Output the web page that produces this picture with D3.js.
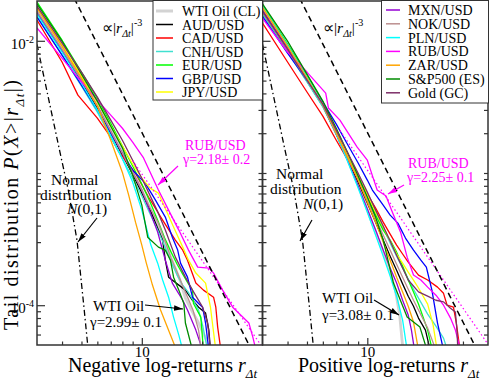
<!DOCTYPE html>
<html>
<head>
<meta charset="utf-8">
<script src="https://cdn.jsdelivr.net/npm/d3@7"></script>
<style>
  body { margin: 0; background: #fff; }
  text { font-family: "Liberation Serif", "Times New Roman", serif; }
</style>
</head>
<body>
<div id="chart"></div>
<script>
// series, same order in both panels
var seriesNames = ["WTI Oil (CL)", "AUD/USD", "CAD/USD", "CNH/USD", "EUR/USD", "GBP/USD", "JPY/USD",
                   "MXN/USD", "NOK/USD", "PLN/USD", "RUB/USD", "ZAR/USD", "S&P500 (ES)", "Gold (GC)"];
var seriesColors = ["#d3d3d3", "#000000", "#ff0000", "#40e0d0", "#00ff00", "#0000ff", "#ffff00",
                    "#9400d3", "#bc8f8f", "#00ffff", "#ff00ff", "#ffa500", "#008b00", "#7d2e68"];

// tail distribution P(X>|r|), points [r, P], negative log-returns
var negTails = [
  [[3,1.71e-2],[4,8.80e-3],[5,5.23e-3],[6,3.27e-3],[7,2.11e-3],[8,1.44e-3],[9,1.01e-3],[10,7.43e-4],[12,4.04e-4],[14,2.27e-4],[15.5,1.55e-4],[16.5,1.13e-4],[17.5,9.49e-5],[19.2,7.33e-5],[21,5.45e-5],[21.6,4.57e-5]],
  [[3,1.62e-2],[4,8.37e-3],[5,4.88e-3],[6,3.10e-3],[7,2.00e-3],[8,1.37e-3],[9,9.80e-4],[10,7.05e-4],[11,5.24e-4],[12.7,3.11e-4],[13.1,2.19e-4],[13.6,1.63e-4],[16.5,1.30e-4],[17.9,1.09e-4],[19.2,9.66e-5],[20.8,8.72e-5],[21.6,6.48e-5],[22,4.57e-5]],
  [[3,1.435e-2],[4,6.91e-3],[4.8,3.88e-3],[6,2.60e-3],[7,1.87e-3],[7.7,1.44e-3],[9.3,9.96e-4],[10.8,6.58e-4],[12.7,4.40e-4],[14.7,3.11e-4],[16,2.61e-4],[16.9,2.19e-4],[18.6,1.47e-4],[20.3,1.30e-4],[22.8,1.15e-4],[23.4,9.66e-5],[23.9,6.83e-5],[24.8,4.57e-5]],
  [[3,1.53e-2],[4,7.80e-3],[5,4.54e-3],[6,2.89e-3],[7,1.87e-3],[8,1.28e-3],[9,9.15e-4],[10,6.69e-4],[11,4.89e-4],[12,3.70e-4],[13,2.80e-4],[14,2.12e-4],[15,1.69e-4],[16,1.42e-4],[17,1.26e-4],[18,1.09e-4],[19.2,9.19e-5],[20.1,7.07e-5],[20.8,5.45e-5],[21.3,4.57e-5]],
  [[3,1.96e-2],[4,1.01e-2],[5,5.80e-3],[6,3.68e-3],[7,2.38e-3],[8,1.60e-3],[9,1.13e-3],[10,8.25e-4],[11,6.03e-4],[12,4.40e-4],[13,3.22e-4],[14,2.52e-4],[15,2.04e-4],[16,1.72e-4],[17,1.47e-4],[17.9,1.30e-4],[18.1,1.03e-4],[19.7,8.13e-5],[20.3,4.57e-5]],
  [[3,1.51e-2],[4,7.80e-3],[5,4.62e-3],[6,2.99e-3],[7,2.00e-3],[8,1.41e-3],[9,1.05e-3],[10.4,8.39e-4],[11.7,6.24e-4],[13.1,4.64e-4],[14.2,3.27e-4],[15.1,2.61e-4],[15.6,2.08e-4],[16.9,1.63e-4],[17.9,1.15e-4],[19.2,1.03e-4],[20.1,9.66e-5],[20.8,7.33e-5],[21.6,4.57e-5]],
  [[3,1.80e-2],[4,9.27e-3],[5,5.42e-3],[6,3.44e-3],[7,2.26e-3],[8,1.60e-3],[9,1.17e-3],[10,9.15e-4],[11,7.69e-4],[12.1,7.05e-4],[14.4,3.90e-4],[16,2.75e-4],[17.1,2.19e-4],[18.6,1.75e-4],[20.8,1.47e-4],[22,9.66e-5],[22.5,7.33e-5],[23.4,4.57e-5]],
  [[3,1.65e-2],[4,8.51e-3],[5,5.05e-3],[6,3.21e-3],[7,2.07e-3],[8,1.41e-3],[9,1.01e-3],[10,7.43e-4],[11,5.06e-4],[12,3.57e-4],[13.1,2.19e-4],[14.2,1.47e-4],[16,1.09e-4],[16.9,9.19e-5],[18.6,6.48e-5],[20.1,4.57e-5]],
  [[3,1.68e-2],[4,8.65e-3],[5,5.05e-3],[6,3.21e-3],[7,2.07e-3],[8,1.41e-3],[9,1.01e-3],[10,7.43e-4],[11,5.43e-4],[12.1,4.18e-4],[13,3.11e-4],[14,2.27e-4],[15,1.78e-4],[16,1.40e-4],[17,1.13e-4],[18,9.19e-5],[19.2,6.48e-5],[19.8,4.57e-5]],
  [[3,1.59e-2],[4,8.22e-3],[5,4.79e-3],[6,2.99e-3],[7,1.91e-3],[8,1.28e-3],[9,8.54e-4],[10,5.24e-4],[11.1,2.85e-4],[12,2.08e-4],[12.7,1.55e-4],[13.6,1.15e-4],[14.4,8.13e-5],[15.3,5.94e-5],[16,4.57e-5]],
  [[3,1.25e-2],[4,7.40e-3],[5,4.88e-3],[6,3.56e-3],[7,2.74e-3],[8,2.18e-3],[9,1.71e-3],[10.2,1.30e-3],[12.1,7.43e-4],[13.6,5.24e-4],[15.3,3.70e-4],[17.1,2.61e-4],[19,1.94e-4],[21.6,1.91e-4],[22.8,1.75e-4],[25.3,1.30e-4],[28.4,9.66e-5],[34.2,7.33e-5],[35.8,5.74e-5],[37.1,4.57e-5]],
  [[3,1.77e-2],[4,9.11e-3],[5,5.23e-3],[6,3.21e-3],[7,1.77e-3],[8,1.01e-3],[8.6,6.81e-4],[9.3,4.25e-4],[10,2.85e-4],[10.5,2.12e-4],[11.3,1.42e-4],[12.4,9.19e-5],[13.9,5.94e-5],[14.9,4.57e-5]],
  [[3,1.90e-2],[4,9.95e-3],[5,5.60e-3],[6,3.50e-3],[7,2.26e-3],[8,1.55e-3],[9,9.64e-4],[10,5.72e-4],[10.7,3.27e-4],[12.1,2.75e-4],[13.1,2.61e-4],[13.9,2.19e-4],[14.4,1.63e-4],[15.3,1.30e-4],[16.2,1.03e-4],[16.5,7.33e-5],[17.9,4.57e-5]],
  [[3,1.83e-2],[4,9.60e-3],[5,5.80e-3],[6,3.75e-3],[7,2.51e-3],[8,1.77e-3],[9,1.25e-3],[10.1,8.84e-4],[11.9,5.24e-4],[13.1,3.70e-4],[14.7,2.31e-4],[16.5,1.63e-4],[17.9,1.30e-4],[20.1,9.66e-5],[21.3,7.33e-5],[22,4.57e-5]]
];

// positive log-returns
var posTails = [
  [[3,1.77e-2],[4,9.11e-3],[5,5.23e-3],[6,3.32e-3],[7,2.00e-3],[8,1.25e-3],[9,8.10e-4],[10,5.24e-4],[11,3.57e-4],[12,2.52e-4],[13,1.78e-4],[13.8,1.30e-4],[14.5,8.42e-5],[14.9,5.45e-5],[15.1,4.57e-5]],
  [[3,1.62e-2],[4,8.37e-3],[5,4.96e-3],[6,3.21e-3],[7,1.97e-3],[8,1.25e-3],[9,8.54e-4],[10,5.92e-4],[11,4.25e-4],[12,3.11e-4],[13,2.35e-4],[14,1.84e-4],[15,1.45e-4],[16,1.17e-4],[17,9.83e-5],[18,7.99e-5],[19.5,6.48e-5],[20.6,4.57e-5]],
  [[3,1.36e-2],[4,6.91e-3],[5,4.10e-3],[6,2.69e-3],[7,1.77e-3],[8,1.25e-3],[9,9.15e-4],[10,6.93e-4],[11,5.43e-4],[12,4.25e-4],[13,3.45e-4],[14,2.85e-4],[15,2.44e-4],[16,2.12e-4],[18,1.69e-4],[20,1.55e-4],[22.4,1.37e-4],[24,1.23e-4],[25,1.00e-4],[26.9,9.66e-5],[27.8,7.33e-5],[29,4.57e-5]],
  [[3,1.59e-2],[4,8.22e-3],[5,4.88e-3],[6,3.16e-3],[7,1.97e-3],[8,1.30e-3],[9,9.15e-4],[10,6.69e-4],[11,4.97e-4],[12,3.83e-4],[13,2.95e-4],[14,2.35e-4],[15,1.91e-4],[16,1.58e-4],[17,1.32e-4],[18,1.13e-4],[20,8.57e-5],[22,6.95e-5],[24,5.64e-5],[25.1,4.57e-5]],
  [[3,1.86e-2],[4,9.44e-3],[5,5.51e-3],[6,3.44e-3],[7,2.11e-3],[8,1.37e-3],[9,9.48e-4],[10,6.69e-4],[11,4.80e-4],[12,3.70e-4],[13,3.11e-4],[14,2.52e-4],[15,1.98e-4],[16,1.55e-4],[17,1.26e-4],[18,1.02e-4],[20,6.48e-5],[21.1,4.57e-5]],
  [[3,1.53e-2],[4,8.08e-3],[5,5.05e-3],[6,3.44e-3],[7,2.34e-3],[8,1.63e-3],[9,1.19e-3],[10,8.84e-4],[10.6,7.43e-4],[12,5.72e-4],[13,4.80e-4],[14.2,4.18e-4],[15.5,3.22e-4],[17,2.61e-4],[18.5,2.19e-4],[19.7,1.94e-4],[21,1.30e-4],[22.4,7.33e-5],[24,4.57e-5]],
  [[3,1.74e-2],[4,8.95e-3],[5,5.23e-3],[6,3.32e-3],[7,2.07e-3],[8,1.37e-3],[9,9.48e-4],[10,6.81e-4],[11,5.06e-4],[12,3.90e-4],[13,3.06e-4],[14,2.44e-4],[15,2.08e-4],[16,1.78e-4],[17,1.55e-4],[18,1.35e-4],[20,1.02e-4],[21.3,7.07e-5],[22.3,4.57e-5]],
  [[3,1.71e-2],[4,8.80e-3],[5,5.14e-3],[6,3.27e-3],[7,1.97e-3],[8,1.23e-3],[9,7.96e-4],[10,5.34e-4],[11,3.70e-4],[12,2.61e-4],[13,1.91e-4],[14,1.47e-4],[15,1.09e-4],[16,8.42e-5],[16.6,6.48e-5],[17.2,4.57e-5]],
  [[3,1.65e-2],[4,8.51e-3],[5,5.05e-3],[6,3.27e-3],[7,2.00e-3],[8,1.30e-3],[9,8.84e-4],[10,6.24e-4],[11,4.55e-4],[12,3.39e-4],[13,2.61e-4],[14,2.04e-4],[15,1.63e-4],[16,1.32e-4],[17,1.09e-4],[18,9.19e-5],[20,6.71e-5],[22,4.57e-5]],
  [[3,1.83e-2],[4,9.27e-3],[5,5.32e-3],[6,3.32e-3],[7,1.97e-3],[8,1.21e-3],[9,7.69e-4],[10,5.06e-4],[11,3.39e-4],[12,2.35e-4],[13,1.66e-4],[14,1.17e-4],[15,7.72e-5],[15.8,4.57e-5]],
  [[3,1.48e-2],[4,8.22e-3],[5,5.80e-3],[6.2,4.02e-3],[6.4,3.10e-3],[7.3,2.51e-3],[8.9,1.57e-3],[10,1.25e-3],[10.7,9.15e-4],[11.2,7.43e-4],[12.4,6.69e-4],[13.2,5.24e-4],[14.7,3.51e-4],[15.8,2.31e-4],[17,1.69e-4],[18.5,1.55e-4],[20,1.37e-4],[22,1.19e-4],[24,1.00e-4],[26,7.99e-5],[27.5,6.48e-5],[29.2,4.57e-5]],
  [[3,1.80e-2],[4,9.11e-3],[5,5.23e-3],[6,3.27e-3],[7,2.00e-3],[8,1.30e-3],[9,8.84e-4],[10,6.03e-4],[11,4.25e-4],[12,3.00e-4],[13,2.19e-4],[14,1.63e-4],[15,1.26e-4],[16,9.83e-5],[17,7.46e-5],[18,4.57e-5]],
  [[3,1.90e-2],[4,9.95e-3],[5,5.60e-3],[6,3.50e-3],[7,2.18e-3],[8,1.41e-3],[9,9.48e-4],[10,6.58e-4],[11,4.64e-4],[12,3.11e-4],[13.5,1.47e-4],[15.8,8.13e-5],[18.3,6.83e-5],[19.5,4.99e-5],[19.8,4.57e-5]],
  [[3,1.68e-2],[4,8.65e-3],[5,5.05e-3],[6,3.32e-3],[7,2.11e-3],[8,1.41e-3],[9,9.96e-4],[10,7.18e-4],[11,5.24e-4],[12,3.97e-4],[13,3.06e-4],[14,2.39e-4],[15,1.91e-4],[16,1.55e-4],[18,1.26e-4],[20,1.17e-4],[22,1.09e-4],[24,1.06e-4],[26,9.49e-5],[27.5,8.88e-5],[28,6.48e-5],[28.3,4.57e-5]]
];

// normal distribution N(0,1) tail (dash-dot)
var normalR = [3, 3.9, 4.3, 4.75, 5.15, 5.4];
var normalP = [9.4e-3, 1.45e-3, 7.4e-4, 3.1e-4, 9.5e-5, 4.6e-5];
// reference power law |r|^-3 (dashed)
var cubicR = [4.6, 34.5];
var cubicP = [2.1e-2, 4.9e-5];
// RUB/USD power-law fits (dotted)
var rubFitNegR = [9, 40], rubFitNegP = [1.24e-3, 4.8e-5];
var rubFitPosR = [7.3, 41], rubFitPosP = [2.1e-3, 4.8e-5];

var xDomain = [3, 40];
var yDomain = [5e-5, 0.02];
var xMajor = [10];
var yMajor = [1e-2, 1e-4];

var W = 490, H = 381;
var panelTop = 1, panelW = 225.5, ph = 344;
var panelLeft = [37, 262.5];

var svg = d3.select('#chart').append('svg')
    .attr('width', W)
    .attr('height', H);

var defs = svg.append('defs');
function marker(id, color) {
    defs.append('marker')
        .attr('id', id)
        .attr('viewBox', '0 0 10 6')
        .attr('refX', 10).attr('refY', 3)
        .attr('markerWidth', 9).attr('markerHeight', 6)
        .attr('markerUnits', 'userSpaceOnUse')
        .attr('orient', 'auto')
        .append('path')
        .attr('d', 'M0,0L10,3L0,6Z')
        .attr('fill', color);
}
marker('arrBlack', '#000');
marker('arrMag', '#ff00ff');

var x = d3.scaleLog().domain(xDomain).range([0, panelW]);
var y = d3.scaleLog().domain(yDomain).range([ph, 0]);

var line = d3.line()
    .x(function(d) { return x(d[0]); })
    .y(function(d) { return y(d[1]); });

function zip(a, b) { return a.map(function(v, i) { return [v, b[i]]; }); }

function isMajor(list, v) {
    return list.some(function(m) { return Math.abs(v / m - 1) < 1e-6; });
}

var minorX = x.ticks().filter(function(v) { return !isMajor(xMajor, v) && v > xDomain[0] && v < xDomain[1]; });
var minorY = y.ticks().filter(function(v) { return !isMajor(yMajor, v) && v > yDomain[0] * 1.001 && v < yDomain[1] * 0.999; });

function drawPanel(idx, tails, fitR, fitP) {
    var g = svg.append('g')
        .attr('transform', 'translate(' + panelLeft[idx] + ',' + panelTop + ')');

    g.append('clipPath').attr('id', 'clip' + idx)
        .append('rect').attr('width', panelW).attr('height', ph);

    var plot = g.append('g').attr('clip-path', 'url(#clip' + idx + ')');

    tails.forEach(function(pts, i) {
        plot.append('path')
            .attr('d', line(pts))
            .attr('fill', 'none')
            .attr('stroke', seriesColors[i])
            .attr('stroke-width', i === 0 ? 2.8 : 1.3)
            .attr('stroke-linejoin', 'round');
    });

    plot.append('path')
        .attr('d', line(zip(fitR, fitP)))
        .attr('fill', 'none')
        .attr('stroke', '#ff00ff')
        .attr('stroke-width', 1.2)
        .attr('stroke-dasharray', '1.5,2.5');

    plot.append('path')
        .attr('d', line(zip(cubicR, cubicP)))
        .attr('fill', 'none')
        .attr('stroke', '#000')
        .attr('stroke-width', 1.5)
        .attr('stroke-dasharray', '6,4');

    plot.append('path')
        .attr('d', line(zip(normalR, normalP)))
        .attr('fill', 'none')
        .attr('stroke', '#000')
        .attr('stroke-width', 1.3)
        .attr('stroke-dasharray', '6,3,1.5,3');

    // ticks, all pointing inward
    function axisStyle(a) {
        a.select('.domain').remove();
        a.selectAll('.tick line').attr('stroke', '#333').attr('stroke-width', 1.2);
        a.attr('font-family', null).attr('font-size', 15);
    }
    g.append('g').attr('transform', 'translate(0,' + ph + ')')
        .call(d3.axisBottom(x).tickValues(minorX).tickSize(-3.5).tickFormat(''))
        .call(axisStyle);
    g.append('g').attr('transform', 'translate(0,' + ph + ')')
        .call(d3.axisBottom(x).tickValues(xMajor).tickSize(-7).tickPadding(1).tickFormat(d3.format('d')))
        .call(axisStyle)
        .selectAll('text').attr('fill', '#000');

    var yLeft = g.append('g')
        .call(d3.axisLeft(y).tickValues(yMajor).tickSize(-8).tickPadding(3).tickFormat(''))
        .call(axisStyle);
    if (idx === 0) {
        yLeft.selectAll('.tick text')
            .attr('fill', '#000')
            .attr('dy', '0.5em')
            .each(function(d) {
                var t = d3.select(this);
                t.append('tspan').text('10');
                t.append('tspan').attr('dy', -6).attr('font-size', 10).text(Math.round(Math.log10(d)));
            });
    }
    g.append('g')
        .call(d3.axisLeft(y).tickValues(minorY).tickSize(-4).tickFormat(''))
        .call(axisStyle);
    g.append('g').attr('transform', 'translate(' + panelW + ',0)')
        .call(d3.axisRight(y).tickValues(yMajor).tickSize(-8).tickFormat(''))
        .call(axisStyle);
    g.append('g').attr('transform', 'translate(' + panelW + ',0)')
        .call(d3.axisRight(y).tickValues(minorY).tickSize(-4).tickFormat(''))
        .call(axisStyle);

    g.append('rect')
        .attr('width', panelW).attr('height', ph)
        .attr('fill', 'none')
        .attr('stroke', '#333')
        .attr('stroke-width', 1.5);
}

drawPanel(0, negTails, rubFitNegR, rubFitNegP);
drawPanel(1, posTails, rubFitPosR, rubFitPosP);

// text helper: parts with italic / sub / sup
function richText(x0, y0, size, color, parts, anchor) {
    var t = svg.append('text')
        .attr('x', x0).attr('y', y0)
        .attr('font-size', size)
        .attr('fill', color);
    if (anchor) t.attr('text-anchor', anchor);
    var shift = 0;
    parts.forEach(function(p) {
        if (typeof p === 'string') p = { t: p };
        var s = t.append('tspan').text(p.t);
        var target = p.sub ? 0.28 : (p.sup ? -0.42 : 0);
        if (target !== shift) s.attr('dy', (target - shift) * size);
        if (p.sub || p.sup) s.attr('font-size', size * 0.65);
        if (p.it) s.attr('font-style', 'italic');
        shift = target;
    });
    return t;
}

function arrow(x1, y1, x2, y2, color, id) {
    svg.append('line')
        .attr('x1', x1).attr('y1', y1).attr('x2', x2).attr('y2', y2)
        .attr('stroke', color).attr('stroke-width', 1.2)
        .attr('marker-end', 'url(#' + id + ')');
}

// axis titles
richText(68, 372, 20, '#000', ['Negative log-returns ', { t: 'r', it: true }, { t: 'Δt', sub: true, it: true }]);
richText(298, 372, 20, '#000', ['Positive log-returns ', { t: 'r', it: true }, { t: 'Δt', sub: true, it: true }]);
richText(0, 0, 20, '#000', ['Tail distribution ', { t: 'P', it: true }, '(', { t: 'X', it: true }, '>|',
    { t: 'r', it: true }, { t: 'Δt', sub: true, it: true }, '|)'], 'middle')
    .attr('transform', 'translate(18,205) rotate(-90)')
    .attr('textLength', 250)
    .attr('lengthAdjust', 'spacing');

// power-law guide labels
[102, 323].forEach(function(px) {
    richText(px, 33, 15.5, '#000', ['∝|', { t: 'r', it: true }, { t: 'Δt', sub: true, it: true }, '|', { t: '-3', sup: true }]);
});

// RUB/USD annotations
richText(185, 150, 14, '#ff00ff', ['RUB/USD']);
richText(183, 163.5, 14, '#ff00ff', ['γ=2.18± 0.2']);
arrow(178, 166, 158, 185, '#ff00ff', 'arrMag');
richText(408, 168, 14, '#ff00ff', ['RUB/USD']);
richText(407, 181.5, 14, '#ff00ff', ['γ=2.25± 0.1']);
arrow(404, 185, 388, 194, '#ff00ff', 'arrMag');

// normal distribution annotations
richText(51, 185, 15.5, '#000', ['Normal']);
richText(40, 199.5, 15.5, '#000', ['distribution']);
richText(67, 214, 15.5, '#000', [{ t: 'N', it: true }, '(0,1)']);
arrow(97, 218, 78, 242, '#000', 'arrBlack');
richText(276, 179, 15.5, '#000', ['Normal']);
richText(270, 194, 15.5, '#000', ['distribution']);
richText(303, 209, 15.5, '#000', [{ t: 'N', it: true }, '(0,1)']);
arrow(312, 220, 300, 241, '#000', 'arrBlack');

// WTI annotations
richText(93, 311, 15, '#000', ['WTI Oil']);
richText(90, 326.5, 15, '#000', ['γ=2.99± 0.1']);
arrow(145, 305, 183, 309, '#000', 'arrBlack');
richText(322, 303, 15, '#000', ['WTI Oil']);
richText(322, 320, 15, '#000', ['γ=3.08± 0.1']);
arrow(374, 300, 399, 315, '#000', 'arrBlack');

// legends
function legend(x0, y0, w, h, first, rowY0, step, lineX, textX) {
    svg.append('rect')
        .attr('x', x0).attr('y', y0).attr('width', w).attr('height', h)
        .attr('fill', '#fff').attr('stroke', '#333').attr('stroke-width', 1);
    d3.range(first, first + 7).forEach(function(i, k) {
        var yc = rowY0 + k * step;
        svg.append('line')
            .attr('x1', lineX[0]).attr('x2', lineX[1]).attr('y1', yc).attr('y2', yc)
            .attr('stroke', seriesColors[i])
            .attr('stroke-width', i === 0 ? 3 : 1.5);
        svg.append('text')
            .attr('x', textX).attr('y', yc + 5)
            .attr('font-size', 14)
            .text(seriesNames[i]);
    });
}
legend(153, 0.5, 109.5, 99.5, 0, 11, 13.5, [156, 173], 182);
legend(381.5, 0.5, 107, 102.5, 7, 10, 13.8, [386, 400], 408);
</script>
</body>
</html>
